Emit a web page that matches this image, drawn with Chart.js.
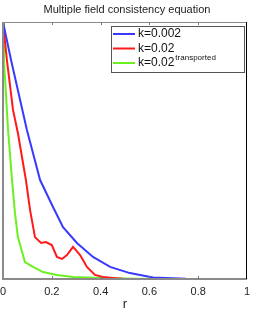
<!DOCTYPE html>
<html>
<head>
<meta charset="utf-8">
<script src="https://cdn.jsdelivr.net/npm/chart.js@4"></script>
<style>
  html, body { margin: 0; padding: 0; background: #fff; }
  #wrap { width: 253px; height: 310px; }
</style>
</head>
<body>
<div id="wrap"><canvas id="myChart" width="253" height="310"></canvas></div>
<script>
// values
const xTicks = [0, 0.2, 0.4, 0.6, 0.8, 1];
const rBlue = [0, 0.033, 0.098, 0.152, 0.205, 0.246, 0.303, 0.369, 0.439, 0.52, 0.615, 0.75, 1.0];
const kBlue = [1, 0.852, 0.58, 0.385, 0.28, 0.202, 0.14, 0.086, 0.047, 0.023, 0.006, 0.001, 0];
const rRed = [0, 0.016, 0.041, 0.061, 0.094, 0.111, 0.131, 0.156, 0.176, 0.2, 0.221, 0.242, 0.262, 0.287, 0.316, 0.344, 0.377, 0.41, 0.45, 0.5];
const kRed = [1, 0.852, 0.658, 0.568, 0.385, 0.268, 0.163, 0.14, 0.144, 0.132, 0.086, 0.078, 0.093, 0.125, 0.093, 0.047, 0.016, 0.008, 0.004, 0];
const rGreen = [0, 0.004, 0.02, 0.037, 0.049, 0.061, 0.09, 0.123, 0.164, 0.221, 0.287, 0.4, 0.55, 0.67];
const kGreen = [1, 0.852, 0.59, 0.385, 0.257, 0.163, 0.066, 0.047, 0.027, 0.016, 0.008, 0.004, 0.001, 0];

const pts = (xs, ys) => xs.map((x, i) => ({x: x, y: ys[i]}));
const FONT = '"Liberation Sans", Arial, sans-serif';

const legendItems = [
  {color: '#3a3aff', text: 'k=0.002', sup: ''},
  {color: '#ff1a1a', text: 'k=0.02', sup: ''},
  {color: '#6cf020', text: 'k=0.02', sup: 'transported'}
];

// matlab style box, inward ticks, title and legend
const boxPlugin = {
  id: 'box',
  afterDraw(chart) {
    const c = chart.ctx, a = chart.chartArea, xs = chart.scales.x;
    c.save();
    c.strokeStyle = '#8a8a8a';
    c.lineWidth = 2;
    c.beginPath();
    c.moveTo(a.left, a.top); c.lineTo(a.left, a.bottom); c.lineTo(a.right, a.bottom);
    c.stroke();
    c.lineWidth = 1;
    c.beginPath();
    c.moveTo(a.left, a.top + 0.5); c.lineTo(a.right, a.top + 0.5);
    c.stroke();
    c.strokeStyle = '#000';
    c.beginPath();
    c.moveTo(a.right - 0.5, a.top); c.lineTo(a.right - 0.5, a.bottom);
    c.stroke();
    c.strokeStyle = '#777';
    xTicks.slice(1, -1).forEach(t => {
      const px = Math.round(xs.getPixelForValue(t)) + 0.5;
      c.beginPath();
      c.moveTo(px, a.top); c.lineTo(px, a.top + 3);
      c.moveTo(px, a.bottom); c.lineTo(px, a.bottom - 3);
      c.stroke();
    });
    // title
    c.fillStyle = '#222';
    c.font = '11px ' + FONT;
    c.textAlign = 'center';
    c.textBaseline = 'middle';
    c.fillText('Multiple field consistency equation', 127, 10);
    // legend
    const lx = 111, ly = 26, lw = 133, lh = 46;
    c.fillStyle = '#fff';
    c.fillRect(lx, ly, lw, lh);
    c.strokeStyle = '#555';
    c.strokeRect(lx + 0.5, ly + 0.5, lw, lh);
    legendItems.forEach((it, i) => {
      const yy = 34 + i * 14.5;
      c.strokeStyle = it.color;
      c.lineWidth = 2;
      c.beginPath();
      c.moveTo(113, yy); c.lineTo(135, yy);
      c.stroke();
      c.fillStyle = '#111';
      c.textAlign = 'left';
      c.font = '12px ' + FONT;
      c.fillText(it.text, 138, yy);
      if (it.sup) {
        const w = c.measureText(it.text).width;
        c.font = '8px ' + FONT;
        c.fillText(it.sup, 138 + w + 1, yy - 5);
      }
    });
    c.restore();
  }
};

const ctx = document.getElementById('myChart');
const myChart = new Chart(ctx, {
  type: 'scatter',
  data: {
    datasets: [
      {label: 'k=0.002', data: pts(rBlue, kBlue), borderColor: legendItems[0].color},
      {label: 'k=0.02', data: pts(rRed, kRed), borderColor: legendItems[1].color},
      {label: 'k=0.02 transported', data: pts(rGreen, kGreen), borderColor: legendItems[2].color}
    ].map(d => Object.assign(d, {showLine: true, pointRadius: 0, borderWidth: 2, tension: 0, fill: false}))
  },
  options: {
    responsive: false,
    animation: false,
    layout: {padding: {top: 22, left: 3, right: 6, bottom: 0}},
    plugins: {legend: {display: false}, title: {display: false}, tooltip: {enabled: false}},
    scales: {
      x: {
        type: 'linear', min: 0, max: 1,
        afterBuildTicks: s => { s.ticks = xTicks.map(v => ({value: v})); },
        afterFit: s => { s.height = 31; s.paddingLeft = 0; s.paddingRight = 0; },
        grid: {display: false, drawTicks: false},
        border: {display: false},
        ticks: {color: '#222', font: {size: 11, family: FONT}, padding: 6, maxRotation: 0,
                callback: v => String(v)},
        title: {display: true, text: 'r', color: '#222', font: {size: 13, family: FONT}, padding: {top: 0, bottom: -2}}
      },
      y: {
        display: false, min: 0, max: 1
      }
    }
  },
  plugins: [boxPlugin]
});
</script>
</body>
</html>
